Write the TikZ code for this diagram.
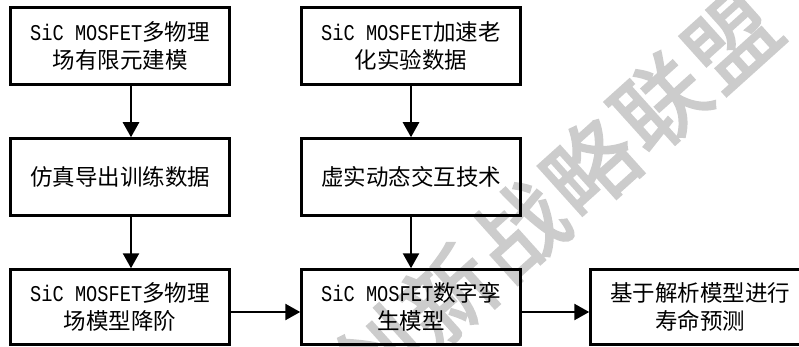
\documentclass[tikz,border=0pt]{standalone}
\usepackage{fontspec}
\setmainfont{Noto Sans CJK SC}
\newfontfamily\latmono[FakeStretch=0.83]{Liberation Mono}
\newfontfamily\wmfont[FakeBold=2.5]{Noto Sans CJK SC}
\usetikzlibrary{arrows.meta}
\newcommand{\smos}{{\latmono SiC MOSFET}}
\tikzset{
  boxnode/.style={draw=black, line width=2.5pt, minimum width=219pt, minimum height=77pt,
    inner sep=0pt, align=center, font=\fontsize{22.5}{28}\selectfont},
  arr/.style={line width=2.5pt, -{Triangle[length=15pt,width=16pt]}},
  wm/.style={text=black!20, font=\wmfont\fontsize{90}{90}\selectfont, rotate=42, inner sep=0pt}
}
\begin{document}
\begin{tikzpicture}[x=1pt,y=-1pt]
\useasboundingbox (0,0) rectangle (799,347);
\clip (0,0) rectangle (799,347);
% watermark
\foreach \ch [count=\i from 0] in {创,新,战,略,联,盟}{
  \node[wm] (wm\i) at ({590+(\i-3)*70.6},{167-(\i-3)*63.6}) {\ch};
}
% boxes
\node[boxnode] (A) at (120,46) {\smos 多物理\\场有限元建模};
\node[boxnode] (B) at (411,46) {\smos 加速老\\化实验数据};
\node[boxnode] (C) at (120,177) {仿真导出训练数据};
\node[boxnode] (D) at (411,177) {虚实动态交互技术};
\node[boxnode, minimum height=75pt] (E) at (120,307) {\smos 多物理\\场模型降阶};
\node[boxnode, minimum height=75pt] (F) at (411,307) {\smos 数字孪\\生模型};
\node[boxnode, minimum height=75pt] (G) at (700,307) {基于解析模型进行\\寿命预测};
% connectors
\coordinate (c1) at (131,0);
\coordinate (r) at (0,312);
\draw[arr] (A.south -| c1) -- (C.north -| c1);
\draw[arr] (C.south -| c1) -- (E.north -| c1);
\draw[arr] (B) -- (D);
\draw[arr] (D) -- (F);
\draw[arr] (E.east |- r) -- (F.west |- r);
\draw[arr] (F.east |- r) -- (G.west |- r);
\end{tikzpicture}
\end{document}
